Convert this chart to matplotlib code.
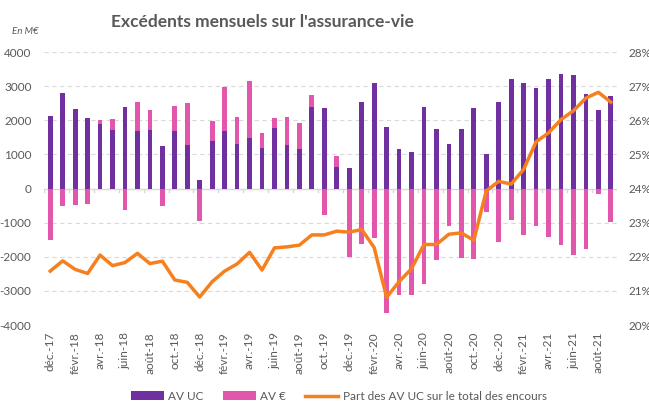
import matplotlib.pyplot as plt
import numpy as np

months = ["déc.-17", "janv.-18", "févr.-18", "mars-18", "avr.-18", "mai-18", "juin-18", "juil.-18",
          "août-18", "sept.-18", "oct.-18", "nov.-18", "déc.-18", "janv.-19", "févr.-19", "mars-19",
          "avr.-19", "mai-19", "juin-19", "juil.-19", "août-19", "sept.-19", "oct.-19", "nov.-19",
          "déc.-19", "janv.-20", "févr.-20", "mars-20", "avr.-20", "mai-20", "juin-20", "juil.-20",
          "août-20", "sept.-20", "oct.-20", "nov.-20", "déc.-20", "janv.-21", "févr.-21", "mars-21",
          "avr.-21", "mai-21", "juin-21", "juil.-21", "août-21", "sept.-21"]

av_uc = [2120, 2790, 2340, 2080, 1900, 1720, 2400, 1690, 1720, 1240, 1690, 1270, 254, 1405,
         1690, 1307, 1493, 1190, 1776, 1278, 1161, 2390, 2351, 634, 595, 2546, 3083, 1805,
         1151, 1073, 2390, 1746, 1307, 1756, 2371, 1015, 2527, 3220, 3102, 2946, 3200, 3356,
         3337, 2761, 2312, 2702]

av_euro = [-1520, -517, -478, -459, 120, 320, -644, 850, 580, -517, 740, 1250, -966, 585,
           1280, 780, 1660, 430, 300, 830, 760, 350, -771, 312, -2000, -1620, -1463, -3659,
           -3112, -3132, -2810, -2088, -1102, -2029, -2059, -683, -1571, -927, -1356, -1093,
           -1434, -1668, -1951, -1766, -166, -976]

part_uc = [21.58, 21.88, 21.63, 21.51, 22.05, 21.74, 21.83, 22.10, 21.80, 21.87, 21.32, 21.25,
           20.82, 21.27, 21.58, 21.79, 22.13, 21.61, 22.26, 22.29, 22.34, 22.64, 22.64, 22.75,
           22.72, 22.80, 22.27, 20.81, 21.27, 21.65, 22.36, 22.36, 22.66, 22.70, 22.48, 23.93,
           24.21, 24.13, 24.56, 25.37, 25.63, 26.02, 26.28, 26.65, 26.82, 26.53]

purple = "#7030A0"
pink = "#E256AB"
orange = "#F7801E"
grey = "#595959"

plt.rcParams["font.family"] = ["Lato", "DejaVu Sans"]
plt.rcParams["axes.unicode_minus"] = False

x = np.arange(len(months))
uc = np.array(av_uc)
eu = np.array(av_euro)
# AV € stacks on top of AV UC when positive, below zero when negative
bottom_eu = np.where(eu > 0, np.maximum(uc, 0), 0)

fig = plt.figure(figsize=(6.49, 4.01), dpi=100)
ax = fig.add_axes([0.0678, 0.1895, 0.883, 0.6808])

w = 0.38
ax.bar(x, uc, width=w, color=purple, label="AV UC", zorder=2)
ax.bar(x, eu, width=w, bottom=bottom_eu, color=pink, label="AV €", zorder=2)

ax.set_xlim(-0.5, len(months) - 0.5)
ax.set_ylim(-4000, 4000)
ax.set_yticks(np.arange(-4000, 4001, 1000))
ax.yaxis.grid(True, color="#D9D9D9", linestyle=(0, (4, 3)), linewidth=0.8, zorder=0)
ax.axhline(0, color="#D9D9D9", linewidth=1, zorder=1)

for s in ax.spines.values():
    s.set_visible(False)

ax.set_xticks(x[::2])
ax.set_xticklabels(months[::2], rotation=90, fontsize=8.5, color=grey)
ax.tick_params(axis="x", length=0, pad=5)
ax.tick_params(axis="y", length=0, labelsize=8.5, labelcolor=grey, pad=9)
for b in np.arange(-0.5, len(months), 2):
    ax.plot([b, b], [0, -90], color="#D9D9D9", linewidth=1, zorder=1)

ax2 = ax.twinx()
ax2.plot(x, part_uc, color=orange, linewidth=2.5, label="Part des AV UC sur le total des encours", zorder=3)
ax2.set_ylim(20, 28)
ax2.set_yticks(np.arange(20, 28.1, 1))
ax2.set_yticklabels([f"{v}%" for v in range(20, 29)])
ax2.tick_params(axis="y", length=0, labelsize=8.5, labelcolor=grey, pad=8)
for s in ax2.spines.values():
    s.set_visible(False)

fig.text(0.405, 0.945, "Excédents mensuels sur l'assurance-vie", ha="center", va="center",
         fontsize=12.5, fontweight="bold", color=grey)
fig.text(0.018, 0.922, "En M€", ha="left", va="center", fontsize=7, style="italic", color=grey)

h1, l1 = ax.get_legend_handles_labels()
h2, l2 = ax2.get_legend_handles_labels()
fig.legend(h1 + h2, l1 + l2, loc="center", bbox_to_anchor=(0.522, 0.012), ncol=3, frameon=False,
           fontsize=8.5, labelcolor=grey, handlelength=2.8, handleheight=0.7, columnspacing=1.6,
           handletextpad=0.4)

fig.savefig("out.png", dpi=100)
